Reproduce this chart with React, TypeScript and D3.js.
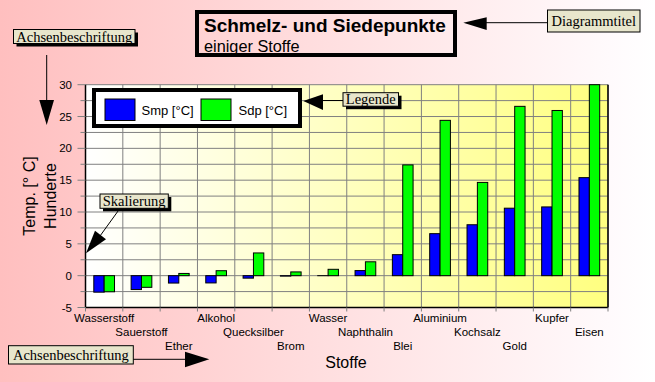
import React from 'react';
import * as d3 from 'd3';

const categories = ['Wasserstoff', 'Sauerstoff', 'Ether', 'Alkohol', 'Quecksilber', 'Brom', 'Wasser', 'Naphthalin', 'Blei', 'Aluminium', 'Kochsalz', 'Gold', 'Kupfer', 'Eisen'];
const smp = [-2.59, -2.18, -1.16, -1.14, -0.39, -0.07, 0, 0.8, 3.3, 6.6, 8.0, 10.6, 10.8, 15.4];
const sdp = [-2.53, -1.83, 0.35, 0.78, 3.57, 0.59, 1.0, 2.18, 17.4, 24.4, 14.65, 26.6, 25.95, 30.0];
const seriesNames = ['Smp [°C]', 'Sdp [°C]'];
const seriesColors = ['#0000ff', '#00ff00'];
const yTicks = d3.range(-5, 30.01, 2.5);
const yLabels = [-5, 0, 5, 10, 15, 20, 25, 30];

const SANS = 'Arial, "Liberation Sans", sans-serif';
const SERIF = '"Times New Roman", "Liberation Serif", serif';
const CALLOUT = '#e8e6cc';

function Callout({ x, y, w, h, text, shadow = true }: { x: number; y: number; w: number; h: number; text: string; shadow?: boolean }) {
  return (
    <g>
      {shadow && <rect x={x + 3} y={y + 3} width={w} height={h} fill="#000" />}
      <rect x={x} y={y} width={w} height={h} fill={CALLOUT} stroke="#000" strokeWidth={1} />
      <text x={x + w / 2} y={y + h / 2} textAnchor="middle" dominantBaseline="central" fontFamily={SERIF} fontSize={14.5} fill="#000">{text}</text>
    </g>
  );
}

export default function App() {
  const left = 85.5, right = 608, top = 84.7, bottom = 307.5;
  const x0 = d3.scaleBand<string>().domain(categories).range([left, right]).paddingInner(0).paddingOuter(0);
  const step = x0.step();
  const x1 = d3.scaleBand<number>().domain([0, 1]).range([step * 0.2225, step * 0.7775]);
  const y = d3.scaleLinear().domain([-5, 30]).range([bottom, top]);
  const clamp = (v: number) => Math.max(-5, Math.min(30, v));
  const series = [smp, sdp];
  const boundaries = d3.range(0, categories.length + 1).map(i => left + i * step);

  return (
    <svg width={655} height={382} style={{ position: 'absolute', left: 0, top: 0 }}>
      <defs>
        <linearGradient id="bg" x1="0" x2="1" y1="0" y2="0">
          <stop offset="0" stopColor="#ffbfbf" />
          <stop offset="0.93" stopColor="#fffafc" />
          <stop offset="1" stopColor="#ffffff" />
        </linearGradient>
        <linearGradient id="plotbg" x1="0" x2="1" y1="0" y2="0">
          <stop offset="0" stopColor="#ffffff" />
          <stop offset="1" stopColor="#ffff80" />
        </linearGradient>
        <clipPath id="plotclip">
          <rect x={left} y={top - 1} width={right - left} height={bottom - top + 1} />
        </clipPath>
      </defs>
      <rect x={0} y={0} width={655} height={382} fill="url(#bg)" />
      <rect x={left} y={top} width={right - left} height={bottom - top} fill="url(#plotbg)" />

      {/* grid */}
      {yTicks.map(t => (
        <line key={'gy' + t} x1={left} x2={right} y1={y(t)} y2={y(t)} stroke="#808080" strokeWidth={1} />
      ))}
      {boundaries.map((b, i) => (
        <line key={'gx' + i} x1={b} x2={b} y1={top} y2={bottom} stroke="#808080" strokeWidth={1} />
      ))}

      {/* bars */}
      <g clipPath="url(#plotclip)">
        {categories.map((c, i) => series.map((s, k) => {
          const v = clamp(s[i]);
          const ya = y(Math.max(0, v));
          const yb = y(Math.min(0, v));
          return (
            <rect key={c + k} x={(x0(c) as number) + (x1(k) as number)} y={ya} width={x1.bandwidth()} height={Math.max(0.01, yb - ya)}
              fill={seriesColors[k]} stroke="#000" strokeWidth={1} />
          );
        }))}
      </g>

      {/* axes */}
      <line x1={left} x2={left} y1={top} y2={bottom} stroke="#000" strokeWidth={1.5} />
      <line x1={left} x2={right} y1={bottom} y2={bottom} stroke="#000" strokeWidth={1.5} />
      <line x1={right} x2={right} y1={top} y2={bottom} stroke="#000" strokeWidth={1.5} />
      {yTicks.map(t => (
        <line key={'ty' + t} x1={yLabels.includes(t) ? 77.5 : 80.5} x2={left} y1={y(t)} y2={y(t)} stroke="#808080" strokeWidth={1} />
      ))}
      {yLabels.map(t => (
        <text key={'ly' + t} x={72} y={y(t)} textAnchor="end" dominantBaseline="central" fontFamily={SANS} fontSize={11.5} fill="#000">{t}</text>
      ))}
      {boundaries.map((b, i) => (
        <line key={'tx' + i} x1={b} x2={b} y1={bottom} y2={bottom + 4} stroke="#808080" strokeWidth={1} />
      ))}
      {categories.map((c, i) => (
        <text key={'lx' + c} x={(x0(c) as number) + step / 2} y={322 + (i % 3) * 14} textAnchor="middle" fontFamily={SANS} fontSize={11.5} fill="#000">{c}</text>
      ))}

      {/* axis titles */}
      <text transform="translate(35,196) rotate(-90)" textAnchor="middle" fontFamily={SANS} fontSize={16} fill="#000">Temp. [° C]</text>
      <text transform="translate(56,196) rotate(-90)" textAnchor="middle" fontFamily={SANS} fontSize={16} fill="#000">Hunderte</text>
      <text x={346} y={368} textAnchor="middle" fontFamily={SANS} fontSize={16} fill="#000">Stoffe</text>

      {/* title box */}
      <rect x={197} y={12} width={258} height={43} fill="none" stroke="#000" strokeWidth={4} />
      <text x={204} y={31.5} fontFamily={SANS} fontWeight="bold" fontSize={19} fill="#000">Schmelz- und Siedepunkte</text>
      <text x={204} y={52} fontFamily={SANS} fontSize={16.3} fill="#000">einiger Stoffe</text>

      {/* legend */}
      <rect x={94} y={90} width={206} height={36} fill="#fff" stroke="#000" strokeWidth={4} />
      {seriesNames.map((n, k) => (
        <g key={n}>
          <rect x={105 + k * 96} y={99} width={30} height={21.5} fill={seriesColors[k]} stroke="#000" strokeWidth={1} />
          <text x={141.5 + k * 97} y={115} fontFamily={SANS} fontSize={13} fill="#000">{n}</text>
        </g>
      ))}

      {/* annotations */}
      <line x1={46.7} x2={46.7} y1={55} y2={102} stroke="#000" strokeWidth={1} />
      <polygon points="39.3,100 54,100 46.7,125" fill="#000" />
      <Callout x={13.5} y={29.5} w={121.5} h={14} text="Achsenbeschriftung" />

      <line x1={486} x2={547.5} y1={22.7} y2={22.7} stroke="#000" strokeWidth={1} />
      <polygon points="463.3,22.7 486.7,17.3 486.7,30" fill="#000" />
      <Callout x={547.5} y={10} w={92.5} h={22} text="Diagrammtitel" shadow={false} />

      <line x1={321} x2={343} y1={100.5} y2={100.5} stroke="#000" strokeWidth={1} />
      <polygon points="303.3,101 323,94.3 323,110" fill="#000" />
      <Callout x={343} y={92.7} w={55.5} h={13.5} text="Legende" />

      <line x1={118.3} x2={100} y1={210.7} y2={236} stroke="#000" strokeWidth={1} />
      <polygon points="86,253.3 95,230.7 106,239.3" fill="#000" />
      <Callout x={100} y={194} w={68.3} h={14.3} text="Skalierung" />

      <line x1={133} x2={186} y1={359.3} y2={359.3} stroke="#000" strokeWidth={1} />
      <polygon points="209.3,359.3 185,351.7 185,367.3" fill="#000" />
      <Callout x={8.5} y={345.7} w={124.8} h={18.3} text="Achsenbeschriftung" shadow={false} />
    </svg>
  );
}
